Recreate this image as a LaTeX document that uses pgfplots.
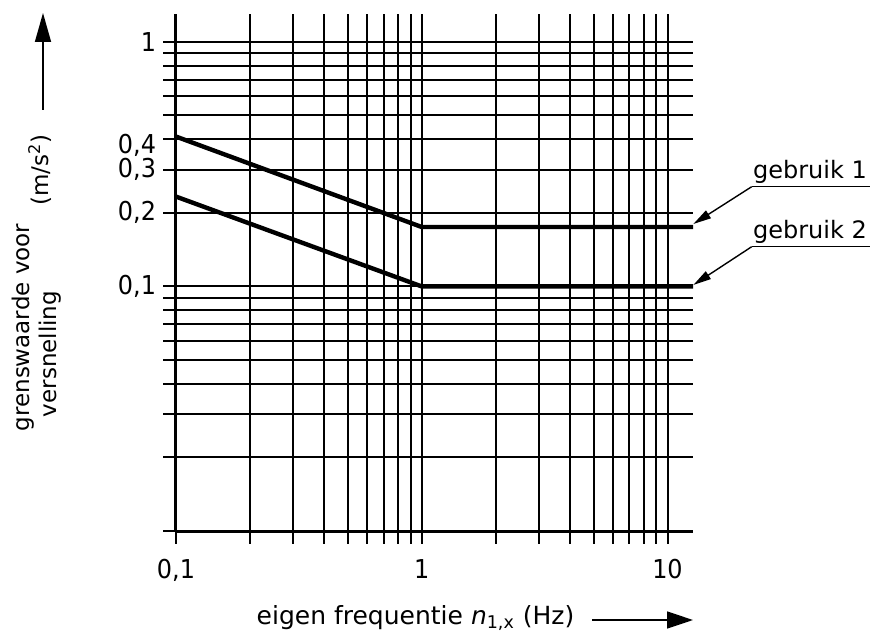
\documentclass[border=0pt]{standalone}
\usepackage{fontspec}
\setmainfont{DejaVu Sans}
\newfontfamily\narrowfont{DejaVu Sans}[FakeStretch=0.92]
\usepackage{pgfplots}
\pgfplotsset{compat=1.18}
\usetikzlibrary{arrows.meta}
\begin{document}
\begin{tikzpicture}
\path[use as bounding box] (-88pt,-50.5pt) rectangle (347pt,265.5pt);
\begin{axis}[
  at={(0pt,0pt)}, anchor=south west,
  scale only axis, width=258.5pt, height=258.5pt,
  xmode=log, ymode=log,
  xmin=0.1, xmax=12.7, ymin=0.01, ymax=1.3,
  axis lines=left,
  axis line style={-, line width=1.5pt, black},
  xtick={0.1,1,10},
  xticklabels={0{,}1,1,10},
  minor xtick={0.2,0.3,0.4,0.5,0.6,0.7,0.8,0.9,2,3,4,5,6,7,8,9},
  ytick={0.01,0.1,0.2,0.3,1},
  yticklabels={{},0{,}1,0{,}2,0{,}3,1},
  extra y ticks={0.4},
  extra y tick labels={0{,}4},
  extra y tick style={yticklabel style={yshift=-3pt}},
  minor ytick={0.02,0.03,0.04,0.05,0.06,0.07,0.08,0.09,0.5,0.6,0.7,0.8,0.9},
  grid=both,
  major grid style={black, line width=1pt},
  minor grid style={black, line width=1pt},
  tick style={black, line width=1pt},
  tick align=outside,
  major tick length=6.5pt, minor tick length=6.5pt,
  ticklabel style={font=\narrowfont\fontsize{13}{13}\selectfont},
  xticklabel style={yshift=-4pt},
  yticklabel style={xshift=-3pt, inner sep=0.3pt},
  clip=true,
]
\addplot[black, line width=2.2pt] coordinates {(0.1,0.41) (1,0.175) (12.7,0.175)};
\addplot[black, line width=2.2pt] coordinates {(0.1,0.233) (1,0.1) (12.7,0.1)};
\end{axis}
% series annotations
\node[anchor=base west, inner sep=0pt, font=\fontsize{12}{12}\selectfont] at (288.35pt,176.35pt) {gebruik 1};
\draw[line width=0.7pt] (347pt,172.15pt) -- (287.85pt,172.15pt);
\draw[line width=0.7pt, -{Triangle[length=9pt,width=4.5pt]}] (287.85pt,172.15pt) -- (258.65pt,153.5pt);
\node[anchor=base west, inner sep=0pt, font=\fontsize{12}{12}\selectfont] at (288.35pt,146.35pt) {gebruik 2};
\draw[line width=0.7pt] (347pt,142.15pt) -- (287.85pt,142.15pt);
\draw[line width=0.7pt, -{Triangle[length=9pt,width=4.5pt]}] (287.85pt,142.15pt) -- (258.65pt,123pt);
% x label
\node[anchor=base, inner sep=0pt, font=\fontsize{12.5}{12.5}\selectfont] at (119.75pt,-46.5pt) {eigen frequentie {\itshape n}\textsubscript{1,x} (Hz)};
\draw[line width=0.8pt, -{Triangle[length=13pt,width=8.5pt]}] (208pt,-44.5pt) -- (258.5pt,-44.5pt);
% y label
\node[rotate=90, inner sep=0pt, font=\fontsize{11.5}{11.5}\selectfont] at (-76.5pt,101.75pt) {grenswaarde voor};
\node[rotate=90, inner sep=0pt, font=\fontsize{11.5}{11.5}\selectfont] at (-63pt,88.5pt) {versnelling};
\node[rotate=90, inner sep=0pt, font=\fontsize{11.5}{11.5}\selectfont] at (-68pt,180.5pt) {(m/s\textsuperscript{2})};
\draw[line width=0.8pt, -{Triangle[length=14.5pt,width=8pt]}] (-66.5pt,210.5pt) -- (-66.5pt,259pt);
\end{tikzpicture}
\end{document}
